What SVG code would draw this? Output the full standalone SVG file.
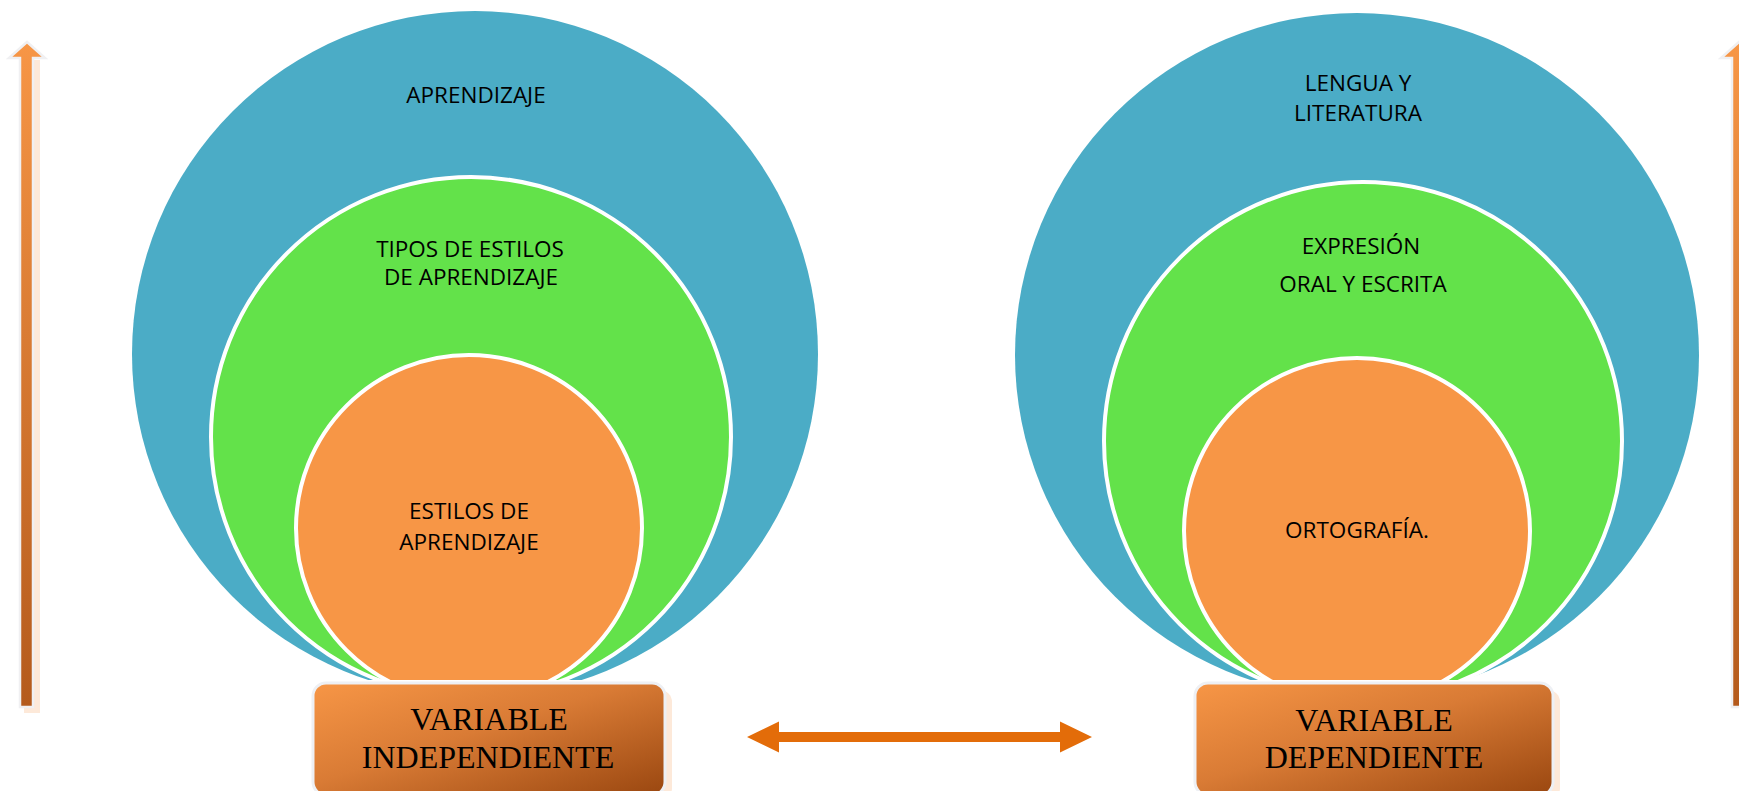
<svg xmlns="http://www.w3.org/2000/svg" width="1739" height="791" viewBox="0 0 1739 791">
<style>
.lbl{font-family:"Open Sans","Noto Sans",sans-serif;font-size:22.5px;fill:#000;text-anchor:middle}
.big{font-family:"Liberation Serif","Times New Roman",serif;font-size:32px;fill:#000;text-anchor:middle}
.blue{fill:#4BACC6}
.green{fill:#63E24A;stroke:#fff;stroke-width:4}
.orange{fill:#F79646;stroke:#fff;stroke-width:4}
.box{fill:url(#boxg);stroke:#EEF0F4;stroke-width:3}
.boxsh{fill:#FDE9D9}
</style>
<defs>
<linearGradient id="boxg" x1="0" y1="0" x2="1" y2="1">
<stop offset="0" stop-color="#F79646"/>
<stop offset="0.45" stop-color="#D97B35"/>
<stop offset="1" stop-color="#9A4710"/>
</linearGradient>
<linearGradient id="arrg" x1="0" y1="0" x2="0" y2="1">
<stop offset="0" stop-color="#F79646"/>
<stop offset="1" stop-color="#B45A1C"/>
</linearGradient>
<clipPath id="clipc"><rect x="0" y="0" width="1739" height="680"/></clipPath>
</defs>

<g id="arrow-left">
<rect class="boxsh" x="24" y="60" width="16" height="653"/>
<path d="M20,58 H9 L27,42 L45,58 H33 V707 H20 Z" fill="url(#arrg)" stroke="#F0F0F2" stroke-width="2.5"/>
</g>
<g id="arrow-right">
<path d="M1732,58 H1721 L1739,42 L1757,58 H1745 V707 H1732 Z" fill="url(#arrg)" stroke="#F0F0F2" stroke-width="2.5"/>
</g>

<g id="left-circles" clip-path="url(#clipc)">
<g id="n-aprendizaje">
<circle class="blue" cx="475" cy="354" r="343"/>
<text class="lbl" x="476" y="103">APRENDIZAJE</text>
</g>
<g id="n-tipos">
<circle class="green" cx="471" cy="437" r="260"/>
<text class="lbl" x="470" y="257">TIPOS DE ESTILOS</text>
<text class="lbl" x="471" y="285">DE APRENDIZAJE</text>
</g>
<g id="n-estilos">
<circle class="orange" cx="469" cy="528" r="173"/>
<text class="lbl" x="469" y="519">ESTILOS DE</text>
<text class="lbl" x="469" y="550">APRENDIZAJE</text>
</g>
</g>

<g id="right-circles" clip-path="url(#clipc)">
<g id="n-lengua">
<circle class="blue" cx="1357" cy="355" r="342"/>
<text class="lbl" x="1358" y="91">LENGUA Y</text>
<text class="lbl" x="1358" y="121">LITERATURA</text>
</g>
<g id="n-expresion">
<circle class="green" cx="1363" cy="441" r="259"/>
<text class="lbl" x="1361" y="254">EXPRESIÓN</text>
<text class="lbl" x="1363" y="292">ORAL Y ESCRITA</text>
</g>
<g id="n-ortografia">
<circle class="orange" cx="1357" cy="531" r="173"/>
<text class="lbl" x="1357" y="538">ORTOGRAFÍA.</text>
</g>
</g>

<g id="n-var-indep">
<rect class="boxsh" x="322" y="690" width="350" height="110" rx="12"/>
<rect class="box" x="313" y="683" width="352" height="112" rx="13"/>
<text class="big" x="489" y="730">VARIABLE</text>
<text class="big" x="488" y="768">INDEPENDIENTE</text>
</g>
<g id="n-var-dep">
<rect class="boxsh" x="1204" y="690" width="356" height="110" rx="12"/>
<rect class="box" x="1195" y="683" width="358" height="112" rx="13"/>
<text class="big" x="1374" y="731">VARIABLE</text>
<text class="big" x="1374" y="768">DEPENDIENTE</text>
</g>

<g id="connectors">
<path d="M747,737 L779,721.5 V732 H1060 V721.5 L1092,737 L1060,752.5 V742 H779 V752.5 Z" fill="#E36C09"/>
</g>
</svg>
